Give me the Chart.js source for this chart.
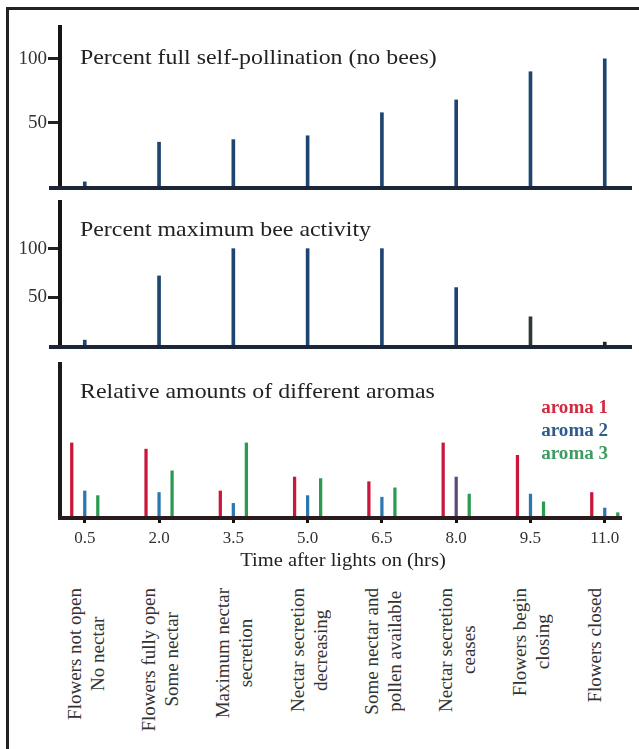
<!DOCTYPE html>
<html lang="en">
<head>
  <meta charset="UTF-8" />
  <title>Flower timeline</title>
  <script src="https://cdn.jsdelivr.net/npm/chart.js"></script>
  <style>
    body { margin: 0; background: #fff; }
    #wrap {
      position: relative;
      width: 639px;
      height: 749px;
      overflow: hidden;
      font-family: 'Liberation Serif', 'DejaVu Serif', serif;
      color: #222;
    }
    #frame {
      position: absolute;
      left: 6px; top: 7px;
      width: 640px; height: 760px;
      border-left: 3px solid #222;
      border-top: 3px solid #222;
    }
    canvas { position: absolute; left: 0; }
    .title {
      position: absolute;
      left: 80px;
      font-size: 22px;
      line-height: 22px;
      white-space: nowrap;
      transform: scaleX(1.085);
      transform-origin: left center;
    }
    #legend {
      position: absolute;
      right: 31px; top: 396px;
      text-align: right;
      font-weight: bold;
      font-size: 18px;
      line-height: 23px;
      transform: scaleX(1.06);
      transform-origin: right center;
    }
    #xtitle {
      position: absolute;
      left: 0; width: 686px; top: 550px;
      text-align: center;
      font-size: 19px;
      line-height: 19px;
      transform: scaleX(1.08);
    }
    .note {
      position: absolute;
      top: 588px;
      writing-mode: vertical-rl;
      transform: rotate(180deg);
      text-align: center;
      white-space: nowrap;
      font-size: 19px;
      line-height: 23px;
      color: #333;
    }
  </style>
</head>
<body>
<div id="wrap">
  <div id="frame"></div>
  <canvas id="c1" width="639" height="192" style="top:0"></canvas>
  <canvas id="c2" width="639" height="160" style="top:192px"></canvas>
  <canvas id="c3" width="639" height="210" style="top:352px"></canvas>

  <div class="title" style="top:46px">Percent full self-pollination (no bees)</div>
  <div class="title" style="top:218px">Percent maximum bee activity</div>
  <div class="title" style="top:380px">Relative amounts of different aromas</div>

  <div id="legend">
    <div style="color:#d22a3e">aroma 1</div>
    <div style="color:#2f5c8c">aroma 2</div>
    <div style="color:#3f9a63">aroma 3</div>
  </div>
  <div id="xtitle">Time after lights on (hrs)</div>
</div>

<script>
  // hours after lights on
  const times = [0.5, 2.0, 3.5, 5.0, 6.5, 8.0, 9.5, 11.0];
  const yTicks = [50, 100];

  const selfPollination = [4, 35, 37, 40, 58, 68, 90, 100];
  const beeActivity = [6, 72, 100, 100, 100, 60, 30, 4];

  const aroma1 = [48, 44, 17, 26, 23, 48, 40, 16];
  const aroma2 = [17, 16, 9, 14, 13, 26, 15, 6];
  const aroma3 = [14, 30, 48, 25, 19, 15, 10, 3];

  const notes = [
    ['Flowers not open', 'No nectar'],
    ['Flowers fully open', 'Some nectar'],
    ['Maximum nectar', 'secretion'],
    ['Nectar secretion', 'decreasing'],
    ['Some nectar and', 'pollen available'],
    ['Nectar secretion', 'ceases'],
    ['Flowers begin', 'closing'],
    ['Flowers closed']
  ];

  const serif = "'Liberation Serif', 'DejaVu Serif', serif";
  const pts = vals => vals.map((v, i) => ({ x: times[i], y: v }));

  // heavy hand-drawn looking axes
  const axisLines = {
    id: 'axisLines',
    afterDatasetsDraw(chart, args, opts) {
      const { ctx, chartArea: a, scales: { x, y } } = chart;
      const y0 = y.getPixelForValue(0);
      const x0 = x.getPixelForValue(0);
      ctx.save();
      ctx.fillStyle = opts.yColor;
      ctx.fillRect(x0 - 2, a.top, 4, y0 - a.top + 3);
      ctx.fillStyle = opts.xColor;
      ctx.fillRect(opts.left, y0 - 1, opts.right - opts.left, 4);
      ctx.restore();
    }
  };

  function xScale(show) {
    const s = {
      type: 'linear', min: 0, max: 11.55, offset: false,
      display: show,
      afterBuildTicks: s => { s.ticks = times.map(v => ({ value: v })); },
      grid: { offset: false, drawOnChartArea: false, tickLength: 6, lineWidth: 3, color: '#111' },
      border: { display: false },
      ticks: {
        padding: 5, color: '#333', maxRotation: 0, autoSkip: false,
        font: { family: serif, size: 17 },
        callback: v => v.toFixed(1)
      }
    };
    if (show) s.afterFit = sc => { sc.height = 40; sc.paddingLeft = 0; sc.paddingRight = 0; };
    return s;
  }

  function yScale(max, show) {
    return {
      min: 0, max: max,
      display: show,
      afterBuildTicks: s => { s.ticks = yTicks.map(v => ({ value: v })); },
      afterFit: sc => { sc.width = 60; sc.paddingTop = 0; sc.paddingBottom = 0; },
      grid: { drawOnChartArea: false, tickLength: 12, lineWidth: 3, color: '#222' },
      border: { display: false },
      ticks: { padding: 1, color: '#333', font: { family: serif, size: 19 } }
    };
  }

  const common = {
    responsive: false,
    animation: false,
    events: [],
    plugins: { legend: { display: false }, tooltip: { enabled: false } }
  };

  new Chart(document.getElementById('c1'), {
    type: 'bar',
    data: {
      datasets: [{ data: pts(selfPollination), backgroundColor: '#1e4470', barThickness: 3 }]
    },
    options: {
      ...common,
      layout: { padding: { top: 25, bottom: 5, right: 7, left: 0 } },
      scales: { x: xScale(false), y: yScale(126.5, true) },
      plugins: { ...common.plugins, axisLines: { left: 49, right: 632, xColor: '#1b2636', yColor: '#151515' } }
    },
    plugins: [axisLines]
  });

  new Chart(document.getElementById('c2'), {
    type: 'bar',
    data: {
      datasets: [{
        data: pts(beeActivity),
        backgroundColor: ['#1e4470', '#1e4470', '#1e4470', '#1e4470', '#1e4470', '#1e4470', '#2b3b33', '#222'],
        barThickness: 3
      }]
    },
    options: {
      ...common,
      layout: { padding: { top: 8, bottom: 6, right: 7, left: 0 } },
      scales: { x: xScale(false), y: yScale(150, true) },
      plugins: { ...common.plugins, axisLines: { left: 49, right: 632, xColor: '#1b2636', yColor: '#151515' } }
    },
    plugins: [axisLines]
  });

  const chart3 = new Chart(document.getElementById('c3'), {
    type: 'bar',
    data: {
      datasets: [
        { label: 'aroma 1', data: pts(aroma1), backgroundColor: '#c8173a' },
        { label: 'aroma 2', data: pts(aroma2),
          backgroundColor: ['#2a78ad', '#2a78ad', '#2a78ad', '#2a78ad', '#2a78ad', '#5b4a7c', '#2a78ad', '#2a78ad'] },
        { label: 'aroma 3', data: pts(aroma3), backgroundColor: '#2c9a50' }
      ]
    },
    options: {
      ...common,
      datasets: { bar: { categoryPercentage: 0.526, barPercentage: 0.25 } },
      layout: { padding: { top: 10, bottom: 5, right: 7, left: 0 } },
      scales: { x: xScale(true), y: yScale(100, false) },
      plugins: { ...common.plugins, axisLines: { left: 58, right: 622, xColor: '#2a1c1e', yColor: '#1e1a1a' } }
    },
    plugins: [axisLines]
  });

  // state-of-flower notes under each time point
  const wrap = document.getElementById('wrap');
  notes.forEach((lines, i) => {
    const d = document.createElement('div');
    d.className = 'note';
    d.innerHTML = lines.join('<br>');
    d.style.left = (chart3.scales.x.getPixelForValue(times[i]) - 22) + 'px';
    wrap.appendChild(d);
  });
</script>
</body>
</html>
